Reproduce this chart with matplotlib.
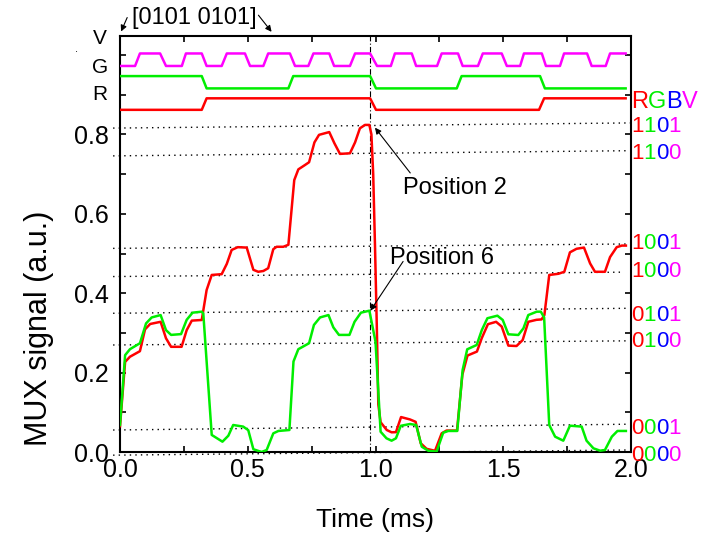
import matplotlib
matplotlib.use("Agg")
import matplotlib.pyplot as plt
from matplotlib.offsetbox import TextArea, HPacker, AnnotationBbox

plt.rcParams['font.family'] = ['Liberation Sans', 'DejaVu Sans']

# ---------------- data ----------------
# MUX analog signals (time in ms, signal in a.u.)
t_red = [0.000, 0.020, 0.039, 0.078, 0.098, 0.118, 0.159, 0.180, 0.200, 0.241, 0.261, 0.281, 0.320,
         0.339, 0.359, 0.398, 0.418, 0.437, 0.461, 0.496, 0.522, 0.541, 0.561, 0.580, 0.600, 0.613,
         0.639, 0.659, 0.682, 0.698, 0.724, 0.740, 0.761, 0.779, 0.819, 0.839, 0.861, 0.900, 0.920,
         0.939, 0.959, 0.976, 0.984, 0.991, 0.998, 1.005, 1.011, 1.020, 1.044, 1.063, 1.080, 1.100,
         1.135, 1.157, 1.177, 1.200, 1.233, 1.259, 1.278, 1.319, 1.340, 1.360, 1.397, 1.416, 1.440,
         1.472, 1.494, 1.520, 1.552, 1.576, 1.598, 1.630, 1.650, 1.661, 1.680, 1.716, 1.739, 1.761,
         1.787, 1.816, 1.840, 1.859, 1.898, 1.918, 1.944, 1.964, 1.980]
v_red = [0.065, 0.227, 0.240, 0.254, 0.309, 0.3225, 0.328, 0.2865, 0.265, 0.265, 0.307, 0.331, 0.3326,
         0.408, 0.446, 0.448, 0.474, 0.509, 0.516, 0.515, 0.459, 0.454, 0.456, 0.463, 0.511, 0.517,
         0.517, 0.522, 0.685, 0.712, 0.723, 0.730, 0.780, 0.799, 0.806, 0.778, 0.751, 0.7525, 0.780,
         0.8155, 0.824, 0.824, 0.800, 0.700, 0.520, 0.320, 0.120, 0.075, 0.0554, 0.0496, 0.050, 0.088,
         0.082, 0.076, 0.022, 0.008, 0.003, 0.047, 0.054, 0.054, 0.195, 0.243, 0.253, 0.287, 0.322,
         0.328, 0.316, 0.268, 0.267, 0.282, 0.328, 0.333, 0.334, 0.345, 0.446, 0.449, 0.454, 0.503,
         0.512, 0.515, 0.475, 0.454, 0.454, 0.491, 0.516, 0.520, 0.520]

t_green = [0.000, 0.020, 0.039, 0.078, 0.102, 0.124, 0.159, 0.180, 0.200, 0.239, 0.261, 0.284, 0.320,
           0.326, 0.359, 0.401, 0.424, 0.443, 0.482, 0.502, 0.522, 0.554, 0.574, 0.600, 0.620, 0.663,
           0.679, 0.698, 0.740, 0.759, 0.783, 0.816, 0.835, 0.857, 0.898, 0.918, 0.943, 0.976, 1.000,
           1.020, 1.043, 1.063, 1.080, 1.099, 1.135, 1.159, 1.181, 1.207, 1.239, 1.265, 1.285, 1.320,
           1.341, 1.359, 1.396, 1.416, 1.438, 1.477, 1.498, 1.520, 1.559, 1.579, 1.598, 1.631, 1.647,
           1.660, 1.680, 1.703, 1.735, 1.761, 1.807, 1.826, 1.853, 1.879, 1.898, 1.925, 1.947, 1.980]
v_green = [0.068, 0.244, 0.259, 0.274, 0.324, 0.339, 0.345, 0.307, 0.295, 0.297, 0.333, 0.351, 0.3535,
           0.349, 0.043, 0.026, 0.041, 0.068, 0.064, 0.055, 0.007, 0.000, 0.005, 0.047, 0.053, 0.0554,
           0.228, 0.259, 0.274, 0.320, 0.339, 0.345, 0.314, 0.295, 0.295, 0.328, 0.351, 0.356, 0.278,
           0.051, 0.0345, 0.0285, 0.0345, 0.066, 0.0705, 0.068, 0.0134, 0.003, 0.001, 0.0486, 0.053, 0.053,
           0.2066, 0.2587, 0.2696, 0.307, 0.337, 0.3434, 0.3326, 0.2965, 0.2948, 0.3116, 0.345, 0.3535,
           0.3535, 0.339, 0.068, 0.0386, 0.0285, 0.0663, 0.064, 0.0285, 0.0093, 0.0033, 0.005, 0.0386,
           0.053, 0.053]

# digital drive signals
t_V = [0.000, 0.059, 0.078, 0.157, 0.180, 0.242, 0.258, 0.320, 0.339, 0.398, 0.418, 0.489, 0.509,
       0.561, 0.580, 0.665, 0.685, 0.737, 0.757, 0.819, 0.838, 0.900, 0.920, 0.979, 1.006, 1.060,
       1.076, 1.142, 1.159, 1.241, 1.259, 1.323, 1.341, 1.401, 1.420, 1.494, 1.514, 1.566, 1.581,
       1.651, 1.667, 1.722, 1.738, 1.828, 1.846, 1.901, 1.918, 1.979]
s_V = [0, 0, 1, 1, 0, 0, 1, 1, 0, 0, 1, 1, 0, 0, 1, 1, 0, 0, 1, 1, 0, 0, 1, 1, 0, 0,
       1, 1, 0, 0, 1, 1, 0, 0, 1, 1, 0, 0, 1, 1, 0, 0, 1, 1, 0, 0, 1, 1]
V_low, V_high = 0.9725, 1.004

t_G = [0.000, 0.320, 0.339, 0.659, 0.678, 0.979, 1.002, 1.318, 1.337, 1.644, 1.663, 1.979]
s_G = [1, 1, 0, 0, 1, 1, 0, 0, 1, 1, 0, 0]
G_low, G_high = 0.916, 0.947

t_R = [0.000, 0.320, 0.339, 0.979, 1.002, 1.640, 1.660, 1.979]
s_R = [0, 0, 1, 1, 0, 0, 1, 1]
R_low, R_high = 0.862, 0.891

# reference levels (dotted lines) and their RGBV codes
codes = ['1101', '1100', '1001', '1000', '0101', '0100', '0001', '0000']
level_left = [0.816, 0.746, 0.513, 0.442, 0.3495, 0.2696, 0.0554, -0.008]
level_right = [0.829, 0.759, 0.524, 0.453, 0.362, 0.280, 0.070, 0.005]
level_end = [1.996, 1.988, 1.983, 1.957, 1.983, 1.983, 1.988, 1.983]
code_label_y = [0.819, 0.753, 0.525, 0.4535, 0.345, 0.278, 0.060, -0.008]
level_start = -0.027

x_ticks = [0.0, 0.5, 1.0, 1.5, 2.0]
y_ticks = [0.0, 0.2, 0.4, 0.6, 0.8]
bit_colors = ['#ff0000', '#00ee00', '#0000ff', '#ff00ff']

# ---------------- figure ----------------
fig = plt.figure(figsize=(7.09, 5.39), dpi=100)
ax = fig.add_axes([120 / 709, 1 - 452 / 539, 511 / 709, 416 / 539])
ax.set_xlim(0, 2.0)
ax.set_ylim(0.0, 1.048)

# dotted reference lines
for yl, yr, xe in zip(level_left, level_right, level_end):
    ax.plot([level_start, xe], [yl, yr], color='black', lw=1.0, ls=(0, (1, 3)), clip_on=False, zorder=1)

# vertical dash-dot marker
ax.axvline(0.978, color='black', lw=0.8, ls=(0, (5, 2, 1, 2)), zorder=1)

# digital traces
def levels(states, lo, hi):
    return [hi if s else lo for s in states]

ax.plot(t_V, levels(s_V, V_low, V_high), color='#ff00ff', lw=1.8, zorder=3)
ax.plot(t_G, levels(s_G, G_low, G_high), color='#00ee00', lw=1.8, zorder=3)
ax.plot(t_R, levels(s_R, R_low, R_high), color='#ff0000', lw=1.8, zorder=3)

# analog curves
ax.plot(t_red, v_red, color='#ff0000', lw=1.8, zorder=3)
ax.plot(t_green, v_green, color='#00ee00', lw=1.8, zorder=4)

# ticks
ax.set_xticks(x_ticks)
ax.set_xticklabels(['%.1f' % v for v in x_ticks])
ax.set_xticks([0.25, 0.75, 1.25, 1.75], minor=True)
ax.set_yticks(y_ticks)
ax.set_yticklabels(['%.1f' % v for v in y_ticks])
ax.set_yticks([0.1, 0.3, 0.5, 0.7, 0.9, 1.0], minor=True)
ax.tick_params(which='both', direction='in', top=True, right=True, length=4, width=1.2)
ax.tick_params(axis='y', labelsize=18, pad=8)
ax.tick_params(axis='x', labelsize=18, pad=4)
for sp in ax.spines.values():
    sp.set_linewidth(1.5)

# axis titles
fig.text(375 / 709, 1 - 520 / 539, 'Time (ms)', fontsize=19, ha='center', va='center')
fig.text(39 / 709, 1 - 328 / 539, 'MUX signal (a.u.)', fontsize=22, ha='center', va='center',
         rotation=90)

# left labels for the digital traces
for lab, yv in zip(['V', 'G', 'R'], [1.0405, 0.969, 0.8995]):
    ax.annotate(lab, xy=(-0.039, yv), xycoords=('axes fraction', 'data'), ha='center', va='center',
                fontsize=15, annotation_clip=False)
fig.text(76 / 709, 1 - 49 / 539, '.', fontsize=8, ha='center', va='center')

# multi-coloured labels on the right
def colored_label(text, yv, size):
    boxes = [TextArea(ch, textprops=dict(color=c, fontsize=size)) for ch, c in zip(text, bit_colors)]
    pack = HPacker(children=boxes, align='baseline', pad=0, sep=0)
    ab = AnnotationBbox(pack, (1.0, yv), xycoords=('axes fraction', 'data'), box_alignment=(0, 0.5),
                        frameon=False, pad=0.05, annotation_clip=False)
    ax.add_artist(ab)

colored_label('RGBV', 0.882, 17)
for code, yv in zip(codes, code_label_y):
    colored_label(code, yv, 16)

# annotations
arrow = dict(arrowstyle='-|>', color='black', lw=0.8, mutation_scale=9, shrinkA=0, shrinkB=0)
ax.annotate('', xy=(0.998, 0.817), xytext=(1.136, 0.703), arrowprops=arrow)
ax.text(1.108, 0.666, 'Position 2', fontsize=17, ha='left', va='center')
ax.annotate('', xy=(0.980, 0.356), xytext=(1.108, 0.480), arrowprops=arrow)
ax.text(1.057, 0.488, 'Position 6', fontsize=17, ha='left', va='center')

fig.text(132 / 709, 1 - 18 / 539, '[0101 0101]', fontsize=17, ha='left', va='center')
fig.add_artist(matplotlib.patches.FancyArrowPatch((128.3 / 709, 1 - 15 / 539), (120 / 709, 1 - 34 / 539),
               transform=fig.transFigure, arrowstyle='-|>', mutation_scale=9, color='black', lw=0.8))
fig.add_artist(matplotlib.patches.FancyArrowPatch((256.7 / 709, 1 - 13 / 539), (273.3 / 709, 1 - 34 / 539),
               transform=fig.transFigure, arrowstyle='-|>', mutation_scale=9, color='black', lw=0.8))

fig.savefig('out.png', dpi=100)
